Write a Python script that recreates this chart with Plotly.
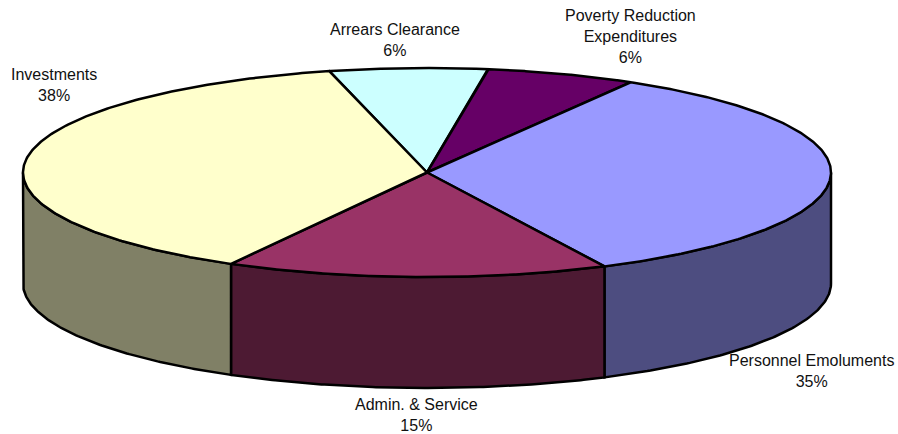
import numpy as np
import plotly.graph_objects as go

# Data, clockwise from the slice that starts at the top of the pie
categories = ["Arrears Clearance", "Poverty Reduction<br>Expenditures", "Personnel Emoluments", "Admin. & Service", "Investments"]
shares = [6.3, 6.0, 34.35, 15.3, 38.05]
percent_labels = ["6%", "6%", "35%", "15%", "38%"]
top_colors = ["#CCFFFF", "#660066", "#9999FF", "#993366", "#FFFFCC"]
side_colors = ["#668080", "#330033", "#4D4D80", "#4D1A33", "#808066"]

# Label anchor centres (pixels in the 898x434 picture)
label_x = [394.5, 630, 811, 416, 54]
label_y = [40, 36, 371, 415, 85]

# Pie projection
W, H = 898, 434
CX, CY, RX, RY, DEPTH = 427, 172.5, 404, 104.5, 111
START_DEG = 104.0
LINE = dict(color="black", width=2.5)


def ex(t):
    return CX + RX * np.cos(np.radians(t))


def ey(t):
    return CY - RY * np.sin(np.radians(t))


fig = go.Figure()

ends = START_DEG - np.cumsum(shares) * 3.6
starts = np.concatenate([[START_DEG], ends[:-1]])

# Side walls: only the front half (t from 180 to 360 degrees, i.e. sin t <= 0)
for name, a, b, col in zip(categories, starts, ends, side_colors):
    segs = []
    for shift in (0, -360):
        lo, hi = max(b + shift, -180), min(a + shift, 0)
        if hi > lo:
            segs.append((lo, hi))
    for lo, hi in segs:
        t = np.linspace(hi, lo, 120)
        xs = np.concatenate([ex(t), ex(t[::-1])])
        ys = np.concatenate([ey(t), ey(t[::-1]) + DEPTH])
        fig.add_trace(go.Scatter(
            x=np.append(xs, xs[0]), y=np.append(ys, ys[0]), mode="lines",
            fill="toself", fillcolor=col, line=LINE, name=name.replace("<br>", " "),
            hoverinfo="name", showlegend=False))

# Top face sectors
for name, a, b, col in zip(categories, starts, ends, top_colors):
    t = np.linspace(a, b, 240)
    xs = np.concatenate([[CX], ex(t), [CX]])
    ys = np.concatenate([[CY], ey(t), [CY]])
    fig.add_trace(go.Scatter(
        x=xs, y=ys, mode="lines", fill="toself", fillcolor=col, line=LINE,
        name=name.replace("<br>", " "), hoverinfo="name", showlegend=False))

for name, pct, lx, ly in zip(categories, percent_labels, label_x, label_y):
    fig.add_annotation(
        x=lx, y=ly, text=f"{name}<br>{pct}", showarrow=False, align="center",
        xanchor="center", yanchor="middle",
        font=dict(family="Liberation Sans, Arial, sans-serif", size=16, color="#111111"))

fig.update_layout(
    width=W, height=H, margin=dict(l=0, r=0, t=0, b=0),
    paper_bgcolor="white", plot_bgcolor="white", showlegend=False,
    xaxis=dict(range=[0, W], visible=False, fixedrange=True),
    yaxis=dict(range=[H, 0], visible=False, fixedrange=True),
)
fig.write_html("out.html", config=dict(displayModeBar=False),
               default_width=f"{W}px", default_height=f"{H}px",
               post_script="document.body.style.margin='0';document.documentElement.style.overflow='hidden';")
